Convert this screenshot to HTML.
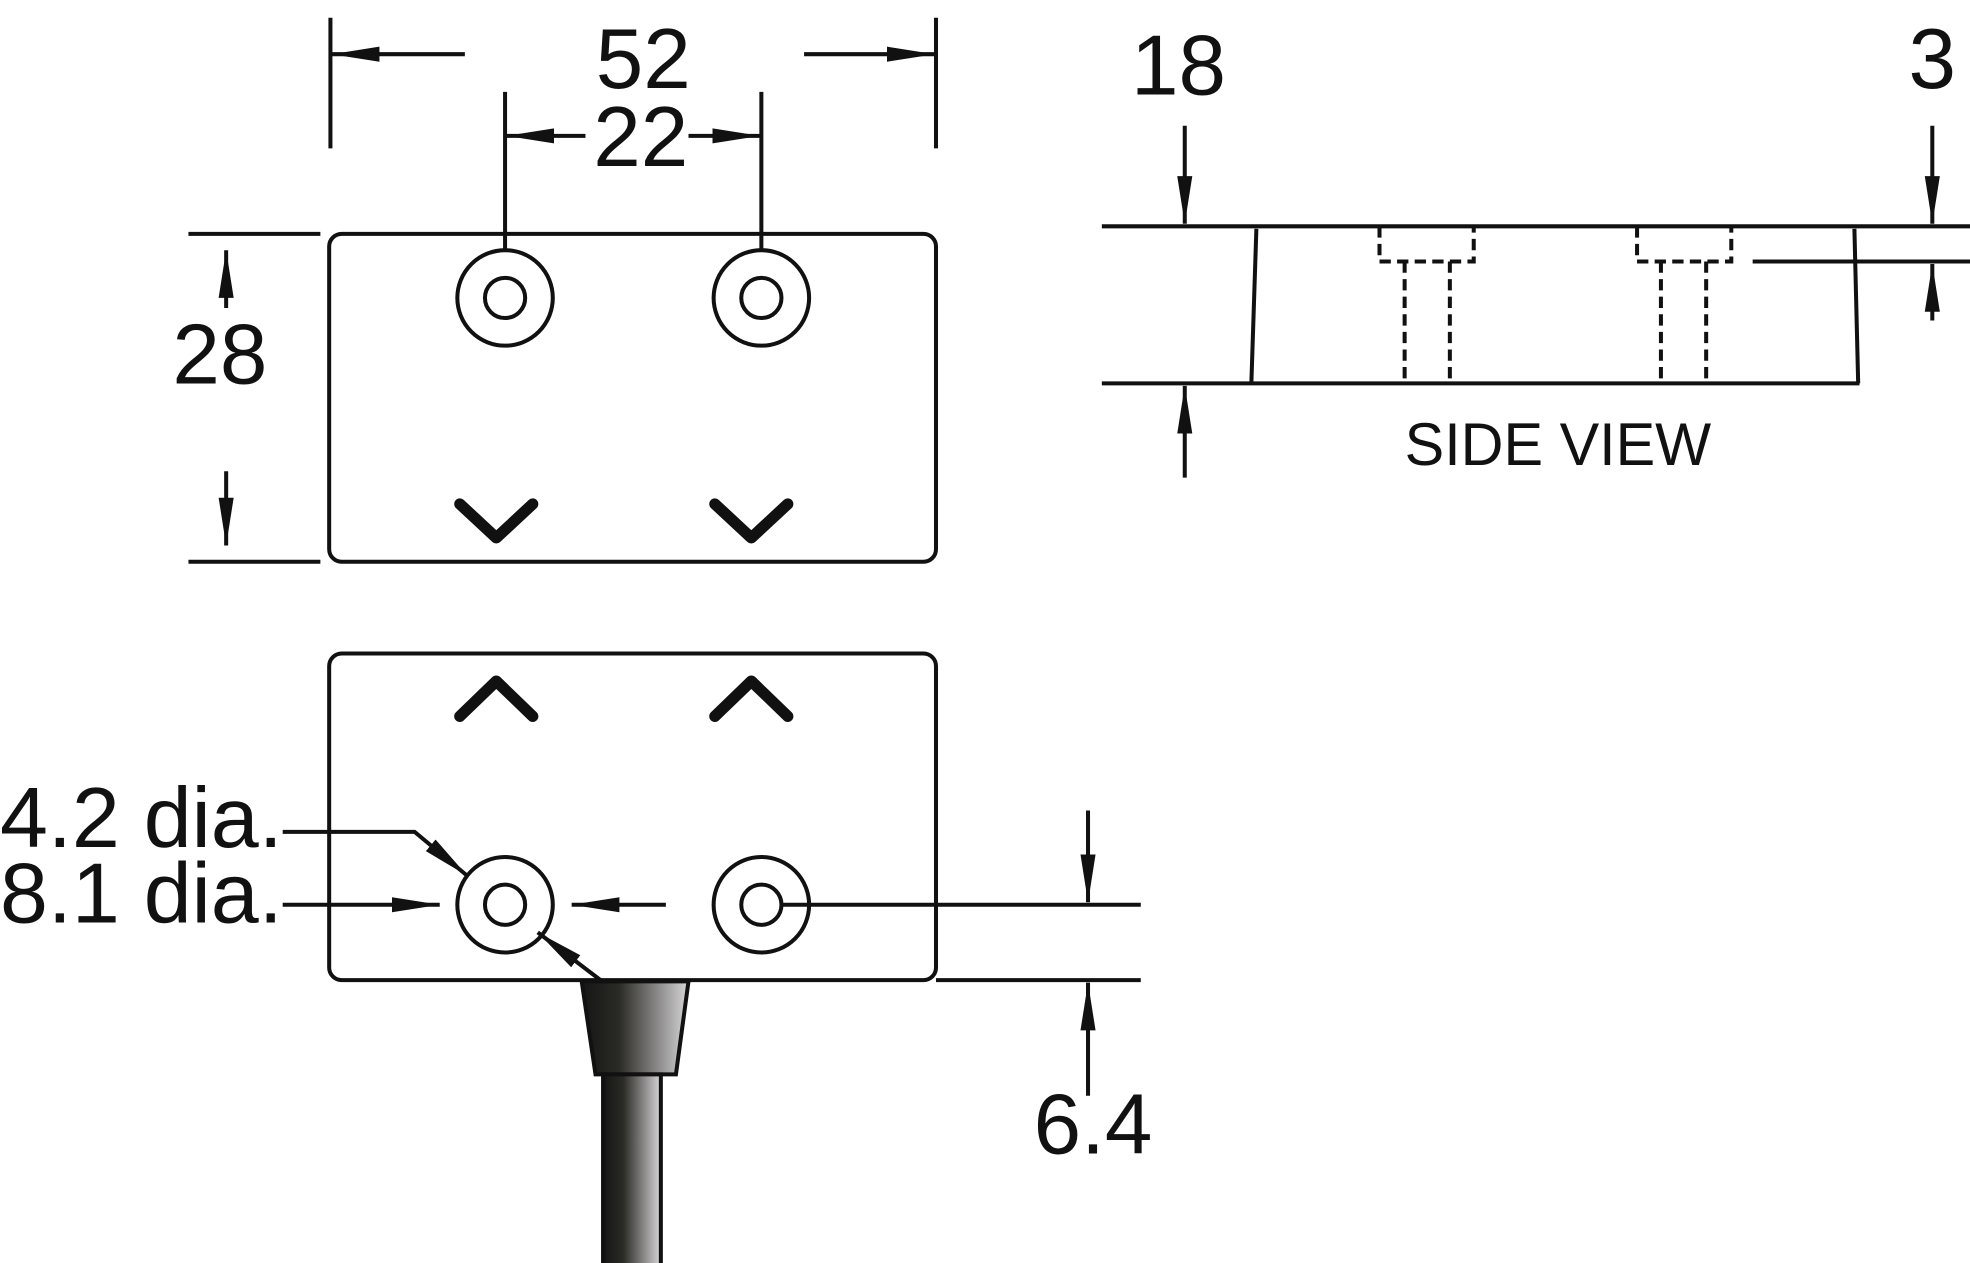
<!DOCTYPE html>
<html><head><meta charset="utf-8"><style>html,body{margin:0;padding:0;background:#fff}svg{display:block}</style></head>
<body>
<svg width="1970" height="1263" viewBox="0 0 1568 1005" xmlns="http://www.w3.org/2000/svg">
<defs>
<marker id="a" markerUnits="userSpaceOnUse" markerWidth="40" markerHeight="16" refX="38" refY="8" orient="auto"><path d="M0,2 L38,8 L0,14 Z" fill="#111"/></marker>
<linearGradient id="g" x1="0" x2="1" y1="0" y2="0"><stop offset="0" stop-color="#151515"/><stop offset="0.35" stop-color="#2a2a26"/><stop offset="1" stop-color="#d8d6d8"/></linearGradient>
</defs>
<g stroke="#111" stroke-width="3.2" fill="none">
<rect x="262" y="186" width="483" height="261" rx="10"/>
<circle cx="402" cy="237" r="38"/><circle cx="402" cy="237" r="16"/>
<circle cx="606" cy="237" r="38"/><circle cx="606" cy="237" r="16"/>
<polyline points="366,401 395,428 424,401" stroke-width="9" stroke-linecap="round" stroke-linejoin="round"/>
<polyline points="569,401 598,428 627,401" stroke-width="9" stroke-linecap="round" stroke-linejoin="round"/>
<line x1="263" y1="14" x2="263" y2="118"/><line x1="745" y1="14" x2="745" y2="118"/>
<line x1="370" y1="43" x2="264" y2="43" marker-end="url(#a)"/>
<line x1="640" y1="43" x2="744" y2="43" marker-end="url(#a)"/>
<line x1="402" y1="73" x2="402" y2="199"/><line x1="606" y1="73" x2="606" y2="199"/>
<line x1="466" y1="108" x2="403" y2="108" marker-end="url(#a)"/>
<line x1="548" y1="108" x2="605" y2="108" marker-end="url(#a)"/>
<line x1="150" y1="186" x2="255" y2="186"/><line x1="150" y1="447" x2="255" y2="447"/>
<line x1="180" y1="245" x2="180" y2="199" marker-end="url(#a)"/>
<line x1="180" y1="375" x2="180" y2="434" marker-end="url(#a)"/>
<rect x="262" y="520" width="483" height="260" rx="10"/>
<polyline points="366,570 395,542 424,570" stroke-width="9" stroke-linecap="round" stroke-linejoin="round"/>
<polyline points="569,570 598,542 627,570" stroke-width="9" stroke-linecap="round" stroke-linejoin="round"/>
<circle cx="402" cy="720" r="38"/><circle cx="402" cy="720" r="16"/>
<circle cx="606" cy="720" r="38"/><circle cx="606" cy="720" r="16"/>
<line x1="622" y1="720" x2="908" y2="720"/><line x1="745" y1="780" x2="908" y2="780"/>
<line x1="866" y1="645" x2="866" y2="718" marker-end="url(#a)"/>
<line x1="866" y1="872" x2="866" y2="782" marker-end="url(#a)"/>
<polyline points="225,662 330,662 372,697" marker-end="url(#a)"/>
<line x1="225" y1="720" x2="350" y2="720" marker-end="url(#a)"/>
<line x1="530" y1="720" x2="455" y2="720" marker-end="url(#a)"/>
<line x1="478" y1="780" x2="428" y2="742" marker-end="url(#a)"/>
<line x1="877" y1="180" x2="1568" y2="180"/><line x1="877" y1="305" x2="1480" y2="305"/>
<line x1="1000" y1="182" x2="996" y2="305"/><line x1="1476" y1="182" x2="1479" y2="305"/>
<line x1="1395" y1="208" x2="1568" y2="208"/>
<g stroke-dasharray="9,5">
<polyline points="1098,180 1098,208 1173,208 1173,180"/>
<line x1="1118" y1="208" x2="1118" y2="305"/><line x1="1154" y1="208" x2="1154" y2="305"/>
<polyline points="1303,180 1303,208 1378,208 1378,180"/>
<line x1="1322" y1="208" x2="1322" y2="305"/><line x1="1358" y1="208" x2="1358" y2="305"/>
</g>
<line x1="943" y1="100" x2="943" y2="178" marker-end="url(#a)"/>
<line x1="943" y1="380" x2="943" y2="307" marker-end="url(#a)"/>
<line x1="1538" y1="100" x2="1538" y2="178" marker-end="url(#a)"/>
<line x1="1538" y1="255" x2="1538" y2="210" marker-end="url(#a)"/>
</g>
<path d="M463,781 L548,781 L538,855 L474,855 Z" fill="url(#g)" stroke="#111" stroke-width="3.2"/>
<rect x="480" y="855" width="46" height="152" fill="url(#g)" stroke="#111" stroke-width="3.2"/>
<g font-family="Liberation Sans, sans-serif" fill="#111" font-size="68">
<text x="512" y="70" text-anchor="middle">52</text>
<text x="510" y="132" text-anchor="middle">22</text>
<text x="175" y="305" text-anchor="middle">28</text>
<text x="938" y="75" text-anchor="middle">18</text>
<text x="1538" y="70" text-anchor="middle">3</text>
<text x="870" y="918" text-anchor="middle">6.4</text>
<text x="0" y="674" textLength="225" lengthAdjust="spacingAndGlyphs">4.2 dia.</text>
<text x="0" y="734" textLength="225" lengthAdjust="spacingAndGlyphs">8.1 dia.</text>
<text x="1240" y="370" text-anchor="middle" font-size="48" textLength="244" lengthAdjust="spacingAndGlyphs">SIDE VIEW</text>
</g>
</svg>
</body></html>
